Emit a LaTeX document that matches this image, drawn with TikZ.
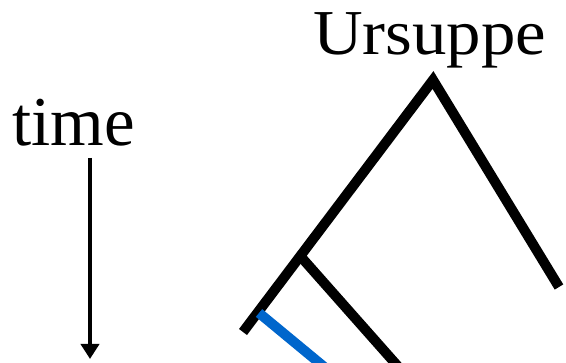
\documentclass[tikz,border=0pt]{standalone}
\usepackage{graphicx}
\usepackage{fontspec}
\setmainfont{Liberation Serif}
\usetikzlibrary{arrows.meta}
\definecolor{branchblue}{HTML}{0066CC}
\begin{document}
\begin{tikzpicture}[x=1pt,y=-1pt,
  branch/.style={line width=10pt,line cap=butt,line join=miter},
  label/.style={anchor=base west,inner sep=0pt,font=\fontsize{64}{70}\selectfont},
  timearrow/.style={line width=4pt,-{Triangle[width=18pt,length=15pt]}}]
\useasboundingbox (0,0) rectangle (566,363);
\clip (0,0) rectangle (566,363);
\node[label] (urs) at (313,55) {\scalebox{1.075}[1]{Ursuppe}};
\node[label,font=\fontsize{70}{76}\selectfont] (time) at (12,146) {\scalebox{0.985}[1]{time}};
\coordinate (top) at (90,158);
\coordinate (bot) at (90,359);
\draw[timearrow] (top) -- (bot);
\coordinate (apex) at (433,80);
\coordinate (lend) at (243,332);
\coordinate (rend) at (559,287);
\coordinate (inner) at (302,258);
\coordinate (innerend) at (410,380);
\coordinate (bstart) at (259,313);
\coordinate (bend) at (340,380);
\draw[branch] (lend) -- (apex) -- (rend);
\draw[branch] (inner) -- (innerend);
\draw[branch,branchblue] (bstart) -- (bend);
\end{tikzpicture}
\end{document}
